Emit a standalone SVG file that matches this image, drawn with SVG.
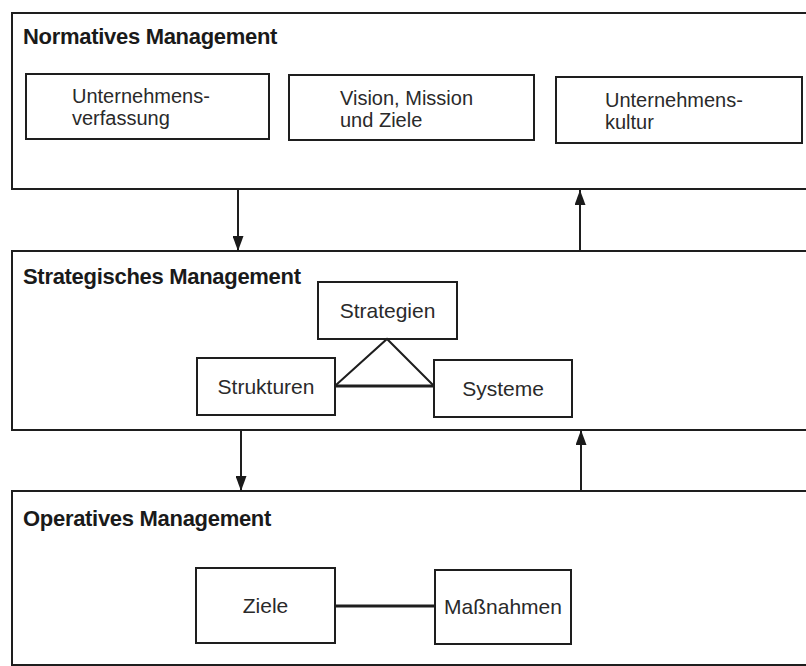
<svg xmlns="http://www.w3.org/2000/svg" width="806" height="666" viewBox="0 0 806 666">
  <defs>
    <style>
      .frame { fill: none; stroke: #1e1e1e; stroke-width: 2; }
      .box { fill: #ffffff; stroke: #1e1e1e; stroke-width: 2; }
      .title { font-family: "Liberation Sans", Arial, sans-serif; font-weight: bold; font-size: 22px; fill: #1a1a1a; letter-spacing: -0.3px; }
      .label { font-family: "Liberation Sans", Arial, sans-serif; font-size: 20px; fill: #2a2a2a; }
      .mid { text-anchor: middle; font-size: 21px; }
      .link { stroke: #1e1e1e; stroke-width: 2; fill: none; }
      .thick { stroke-width: 3; }
    </style>
    <marker id="arrow" viewBox="0 0 15 11" refX="15" refY="5.5" markerWidth="15" markerHeight="11" markerUnits="userSpaceOnUse" orient="auto">
      <path d="M0,0 L15,5.5 L0,11 Z" fill="#1a1a1a"/>
    </marker>
  </defs>

  <rect width="806" height="666" fill="#ffffff"/>

  <!-- Normative level -->
  <g id="normativ">
    <rect class="frame" x="12" y="13" width="800" height="176"/>
    <text class="title" x="23" y="44">Normatives Management</text>
  </g>
  <g id="verfassung">
    <rect class="box" x="26" y="74" width="243" height="65"/>
    <text class="label" x="72" y="103">Unternehmens-</text>
    <text class="label" x="72" y="125">verfassung</text>
  </g>
  <g id="vision">
    <rect class="box" x="289" y="75" width="245" height="65"/>
    <text class="label" x="340" y="105">Vision, Mission</text>
    <text class="label" x="340" y="127">und Ziele</text>
  </g>
  <g id="kultur">
    <rect class="box" x="556" y="77" width="246" height="66"/>
    <text class="label" x="605" y="107">Unternehmens-</text>
    <text class="label" x="605" y="129">kultur</text>
  </g>

  <!-- Strategic level -->
  <g id="strategisch">
    <rect class="frame" x="12" y="251" width="800" height="179"/>
    <text class="title" x="23" y="284">Strategisches Management</text>
  </g>
  <g id="strategien">
    <rect class="box" x="318" y="282" width="139" height="57"/>
    <text class="label mid" x="387.5" y="318">Strategien</text>
  </g>
  <g id="strukturen">
    <rect class="box" x="197" y="358" width="138" height="57"/>
    <text class="label mid" x="266" y="394">Strukturen</text>
  </g>
  <g id="systeme">
    <rect class="box" x="434" y="360" width="138" height="57"/>
    <text class="label mid" x="503" y="396">Systeme</text>
  </g>

  <!-- Operative level -->
  <g id="operativ">
    <rect class="frame" x="12" y="491" width="800" height="174"/>
    <text class="title" x="23" y="526">Operatives Management</text>
  </g>
  <g id="ziele">
    <rect class="box" x="196" y="568" width="139" height="75"/>
    <text class="label mid" x="265.5" y="613">Ziele</text>
  </g>
  <g id="massnahmen">
    <rect class="box" x="435" y="570" width="136" height="74"/>
    <text class="label mid" x="503" y="614">Maßnahmen</text>
  </g>

  <!-- Connectors -->
  <g id="connectors">
    <line class="link" x1="238" y1="189" x2="238" y2="251" marker-end="url(#arrow)"/>
    <line class="link" x1="580" y1="251" x2="580" y2="190" marker-end="url(#arrow)"/>
    <line class="link" x1="241" y1="430" x2="241" y2="491" marker-end="url(#arrow)"/>
    <line class="link" x1="581" y1="491" x2="581" y2="430" marker-end="url(#arrow)"/>
    <polyline class="link" points="336,385 387,339 434,386"/>
    <line class="link thick" x1="335" y1="386" x2="434" y2="386"/>
    <line class="link thick" x1="335" y1="606" x2="435" y2="606"/>
  </g>
</svg>
